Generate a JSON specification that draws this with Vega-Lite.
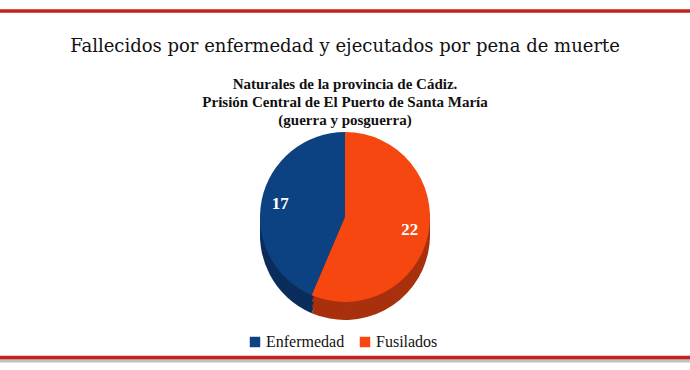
{
  "$schema": "https://vega.github.io/schema/vega-lite/v6.json",
  "width": 690,
  "height": 370,
  "padding": 0,
  "autosize": {"type": "none"},
  "background": "white",
  "config": {
    "view": {"stroke": null},
    "font": "Liberation Serif"
  },
  "title": {
    "text": "Fallecidos por enfermedad y ejecutados por pena de muerte",
    "subtitle": ["Naturales de la provincia de Cádiz.", "Prisión Central de El Puerto de Santa María", "(guerra y posguerra)"],
    "anchor": "middle",
    "font": "DejaVu Serif",
    "fontSize": 18,
    "fontWeight": "normal",
    "color": "#111111",
    "subtitleFont": "Liberation Serif",
    "subtitleFontSize": 15,
    "subtitleFontWeight": "bold",
    "subtitleColor": "#111111",
    "subtitleLineHeight": 18,
    "subtitlePadding": 21,
    "offset": -128
  },
  "data": {"values": [
    {"categoria": "Enfermedad", "fallecidos": 17},
    {"categoria": "Fusilados", "fallecidos": 22}
  ]},
  "resolve": {"scale": {"color": "independent"}},
  "layer": [
    {
      "data": {"values": [{"linea": "superior"}]},
      "mark": {"type": "rule", "color": "#c8201e", "strokeWidth": 3.5},
      "encoding": {"y": {"value": 11}, "x": {"value": 0}, "x2": {"value": 690}}
    },
    {
      "data": {"values": [{"linea": "inferior-sombra"}]},
      "mark": {"type": "rule", "color": "#9a9a9a", "strokeWidth": 4, "opacity": 0.6},
      "encoding": {"y": {"value": 360.5}, "x": {"value": 0}, "x2": {"value": 690}}
    },
    {
      "data": {"values": [{"linea": "inferior"}]},
      "mark": {"type": "rule", "color": "#c8201e", "strokeWidth": 3.5},
      "encoding": {"y": {"value": 357.5}, "x": {"value": 0}, "x2": {"value": 690}}
    },
    {
      "layer": [
        {"mark": {"type": "arc", "outerRadius": 85, "y": 235}},
        {"mark": {"type": "arc", "outerRadius": 85, "y": 229}},
        {"mark": {"type": "arc", "outerRadius": 85, "y": 223}}
      ],
      "encoding": {
        "theta": {"field": "fallecidos", "type": "quantitative", "stack": true},
        "order": {"field": "categoria", "sort": "descending"},
        "color": {
          "field": "categoria", "type": "nominal",
          "scale": {"domain": ["Enfermedad", "Fusilados"], "range": ["#0a2d5c", "#a8300c"]},
          "legend": null
        }
      }
    },
    {
      "mark": {"type": "arc", "outerRadius": 85, "y": 217},
      "encoding": {
        "theta": {"field": "fallecidos", "type": "quantitative", "stack": true},
        "order": {"field": "categoria", "sort": "descending"},
        "color": {
          "field": "categoria", "type": "nominal",
          "scale": {"domain": ["Enfermedad", "Fusilados"], "range": ["#0d4282", "#f5470f"]},
          "legend": {
            "title": null,
            "orient": "none",
            "legendX": 247,
            "legendY": 334,
            "direction": "horizontal",
            "symbolType": "square",
            "symbolSize": 110,
            "symbolStrokeWidth": 0,
            "labelFont": "Liberation Serif",
            "labelFontSize": 16,
            "labelColor": "#111111",
            "columnPadding": 12,
            "labelOffset": 3
          }
        }
      }
    },
    {
      "mark": {"type": "text", "radius": 66, "y": 217, "font": "Liberation Serif", "fontSize": 17, "fontWeight": "bold", "fill": "white"},
      "encoding": {
        "theta": {"field": "fallecidos", "type": "quantitative", "stack": true},
        "order": {"field": "categoria", "sort": "descending"},
        "text": {"field": "fallecidos", "type": "quantitative"}
      }
    }
  ]
}
